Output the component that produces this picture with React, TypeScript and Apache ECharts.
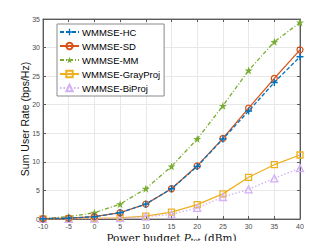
import React, { useEffect, useRef } from "react";
import * as echarts from "echarts";

const powerBudget = [-10, -5, 0, 5, 10, 15, 20, 25, 30, 35, 40];
const wmmseHC = [0.05, 0.15, 0.4, 1.1, 2.6, 5.3, 9.2, 14.0, 18.9, 23.9, 28.4];
const wmmseSD = [0.05, 0.15, 0.4, 1.1, 2.6, 5.3, 9.3, 14.1, 19.4, 24.6, 29.6];
const wmmseMM = [0.1, 0.4, 1.1, 2.6, 5.3, 9.2, 14.0, 19.8, 26.0, 31.0, 34.4];
const wmmseGray = [0.02, 0.05, 0.1, 0.2, 0.5, 1.2, 2.5, 4.4, 7.3, 9.5, 11.2];
const wmmseBi = [0.02, 0.04, 0.08, 0.15, 0.4, 0.8, 1.95, 3.85, 5.2, 7.1, 8.9];
const xTicks = [-10, -5, 0, 5, 10, 15, 20, 25, 30, 35, 40];

const PLUS = "path://M4,0H6V4H10V6H6V10H4V6H0V4H4Z";
const STAR =
  "path://M50,0L61.8,35.3L98.8,35.3L68.8,57.1L80.3,92.7L50,70.9L19.7,92.7L31.2,57.1L1.2,35.3L38.2,35.3Z";

const pairs = (ys: number[]) => powerBudget.map((x, i) => [x, ys[i]]);

export default function App() {
  const ref = useRef<HTMLDivElement>(null);
  useEffect(() => {
    if (!ref.current) return;
    const chart = echarts.init(ref.current, undefined, { renderer: "svg" });
    const axisCol = "#5a5a5a";
    const gridCol = "#e8e8e8";
    const tickLabel = { color: "#4d4d4d", fontSize: 7, fontFamily: "Liberation Sans, Arial, sans-serif" };
    const serif = "DejaVu Serif, Liberation Serif, serif";
    chart.setOption({
      animation: false,
      backgroundColor: "#fff",
      grid: {
        left: 43,
        right: 32,
        top: 19,
        bottom: 28,
        show: true,
        borderColor: "#7a7a7a",
        borderWidth: 1,
      },
      legend: {
        orient: "vertical",
        left: 57,
        top: 24,
        backgroundColor: "#fff",
        borderColor: "#8a8a8a",
        borderWidth: 1,
        borderRadius: 0,
        padding: [3, 4, 3, 2],
        itemGap: 4,
        itemWidth: 19,
        itemHeight: 8,
        textStyle: { fontSize: 9.5, fontFamily: "Liberation Sans, Arial, sans-serif", color: "#000", padding: [0, 0, 0, -2] },
        data: ["WMMSE-HC", "WMMSE-SD", "WMMSE-MM", "WMMSE-GrayProj", "WMMSE-BiProj"],
      },
      xAxis: [
        {
          type: "value",
          min: -10,
          max: 40,
          interval: 5,
          name: "{a|Power budget }{i|P}{s|tot}{a| (dBm)}",
          nameLocation: "middle",
          nameGap: 12,
          nameMoveOverlap: false,
          nameTextStyle: {
            rich: {
              a: { fontFamily: serif, fontSize: 10.5, color: "#111", lineHeight: 13, verticalAlign: "middle" },
              i: { fontFamily: serif, fontSize: 10.5, fontStyle: "italic", color: "#111", lineHeight: 13, verticalAlign: "middle" },
              s: { fontFamily: serif, fontSize: 7, color: "#111", lineHeight: 7, verticalAlign: "bottom" },
            },
          },
          axisLine: { show: true, onZero: false, lineStyle: { color: axisCol, width: 1 } },
          axisTick: { show: true, inside: true, length: 3, lineStyle: { color: axisCol } },
          axisLabel: { ...tickLabel, margin: 4, formatter: (v: number) => (xTicks.includes(v) ? String(v) : "") },
          splitLine: { show: true, lineStyle: { color: gridCol, width: 1 } },
        },
        {
          type: "value",
          position: "top",
          min: -10,
          max: 40,
          interval: 5,
          axisLine: { show: true, onZero: false, lineStyle: { color: axisCol } },
          axisTick: { show: true, inside: true, length: 3, lineStyle: { color: axisCol } },
          axisLabel: { show: false },
          splitLine: { show: false },
        },
      ],
      yAxis: [
        {
          type: "value",
          min: 0,
          max: 35,
          interval: 5,
          name: "Sum User Rate (bps/Hz)",
          nameLocation: "middle",
          nameGap: 13,
          nameMoveOverlap: false,
          nameTextStyle: { fontSize: 10.5, fontFamily: "Liberation Sans, Arial, sans-serif", color: "#111" },
          axisLine: { show: true, onZero: false, lineStyle: { color: axisCol } },
          axisTick: { show: true, inside: true, length: 3, lineStyle: { color: axisCol } },
          axisLabel: { ...tickLabel, margin: 3 },
          splitLine: { show: true, lineStyle: { color: gridCol, width: 1 } },
        },
        {
          type: "value",
          position: "right",
          min: 0,
          max: 35,
          interval: 5,
          axisLine: { show: true, onZero: false, lineStyle: { color: axisCol } },
          axisTick: { show: true, inside: true, length: 3, lineStyle: { color: axisCol } },
          axisLabel: { show: false },
          splitLine: { show: false },
        },
      ],
      series: [
        {
          name: "WMMSE-HC",
          type: "line",
          data: pairs(wmmseHC),
          symbol: PLUS,
          symbolSize: 7,
          lineStyle: { color: "#0072BD", width: 1.3, type: [4, 2] },
          itemStyle: { color: "#0072BD" },
          z: 5,
        },
        {
          name: "WMMSE-SD",
          type: "line",
          data: pairs(wmmseSD),
          symbol: "circle",
          symbolSize: 6,
          lineStyle: { color: "#D95319", width: 1.3 },
          itemStyle: { color: "rgba(0,0,0,0)", borderColor: "#D95319", borderWidth: 1.3 },
          z: 4,
        },
        {
          name: "WMMSE-MM",
          type: "line",
          data: pairs(wmmseMM),
          symbol: STAR,
          symbolSize: 8,
          lineStyle: { color: "#77AC30", width: 1.3, type: [4, 2, 1, 2] },
          itemStyle: { color: "#77AC30" },
          z: 3,
        },
        {
          name: "WMMSE-GrayProj",
          type: "line",
          data: pairs(wmmseGray),
          symbol: "rect",
          symbolSize: 6,
          lineStyle: { color: "#EDB120", width: 1.3 },
          itemStyle: { color: "rgba(0,0,0,0)", borderColor: "#EDB120", borderWidth: 1.3 },
          z: 3,
        },
        {
          name: "WMMSE-BiProj",
          type: "line",
          data: pairs(wmmseBi),
          symbol: "triangle",
          symbolSize: 7,
          lineStyle: { color: "#D4B0F7", width: 1.3, type: [1.5, 2] },
          itemStyle: { color: "rgba(0,0,0,0)", borderColor: "#D4B0F7", borderWidth: 1.3 },
          z: 3,
        },
      ],
    });
    return () => chart.dispose();
  }, []);
  return (
    <div style={{ margin: -8 }}>
      <div ref={ref} style={{ width: 332, height: 249 }} />
    </div>
  );
}
